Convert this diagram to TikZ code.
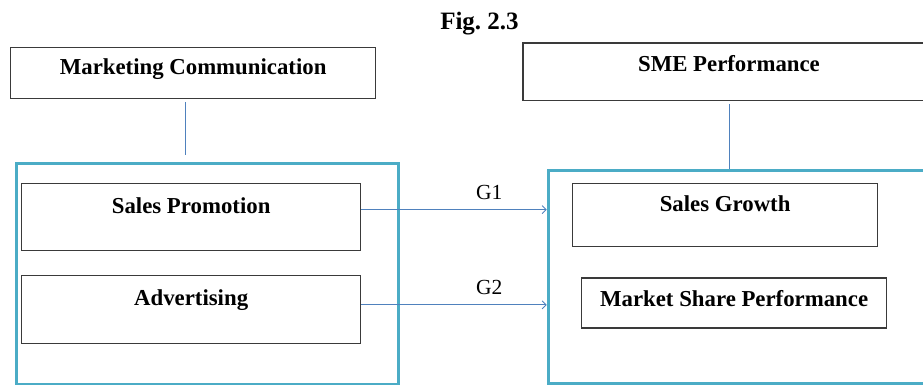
\documentclass[tikz,border=0pt]{standalone}
\usepackage{fontspec}
\setmainfont{Liberation Serif}
\usetikzlibrary{arrows.meta}
\usetikzlibrary{calc,positioning}

\definecolor{boxgray}{HTML}{3A3A3A}
\definecolor{groupcyan}{HTML}{4BACC6}
\definecolor{linkblue}{HTML}{4F81BD}

\tikzset{
    blk/.style={draw=boxgray, line width=1.3pt, inner sep=0pt, anchor=north west,
        font=\bfseries\fontsize{22.8}{27}\selectfont},
    grp/.style={draw=groupcyan, line width=2.8pt, inner sep=0pt, anchor=north west},
    link/.style={draw=linkblue, line width=0.9pt},
    flow/.style={link, -{Straight Barb[length=4pt,width=8pt]}},
    glabel/.style={font=\fontsize{21.5}{26}\selectfont, above=6.5pt}
}

\begin{document}
\frenchspacing
\begin{tikzpicture}[x=1pt, y=-1pt]

    \useasboundingbox (0,0) rectangle (923,385);
    \clip (0,0) rectangle (923,385);

    \node[font=\bfseries\fontsize{25}{30}\selectfont, anchor=base] (fig) at (479.5,29.3) {Fig. 2.3};

    % left side
    \node[blk, minimum width=365pt, text height=27pt, text depth=24pt] (mc) at (10,47) {Marketing Communication};
    \node[grp, minimum width=381.4pt, minimum height=220.8pt] (lgroup) at (15.3,162.2) {};
    \node[blk, minimum width=339pt, text height=30pt, text depth=37pt] (sp) at (21,183) {Sales Promotion};
    \node[blk, minimum width=339pt, text height=30.5pt, text depth=37.5pt] (adv) at (21,274.5) {Advertising};

    % right side
    \node[blk, minimum width=412pt, text height=28.4pt, text depth=29.3pt] (sme) at (522.3,42.3) {SME Performance};
    \node[grp, minimum width=390pt, minimum height=213pt] (rgroup) at (546.7,169.3) {};
    \node[blk, minimum width=305pt, text height=28pt, text depth=35pt] (sg) at (572,183) {Sales Growth};
    \node[blk, minimum width=305pt, text height=28.4pt, text depth=21.6pt] (msp) at (581,277.3) {Market Share Performance};

    % links
    \draw[link, shorten <=3pt, shorten >=7pt] ([xshift=-7.5pt]mc.south) -- ([xshift=-7.5pt]mc.south |- lgroup.north);
    \draw[link, shorten <=3pt] (sme.south) -- (sme.south |- rgroup.north);

    \coordinate (g1s) at ([yshift=4pt]sp.base east);
    \coordinate (g2s) at ([yshift=0.8pt]adv.base east);
    \draw[flow] (g1s) -- node[glabel, pos=0.69]{G1} (g1s -| rgroup.west);
    \draw[flow] (g2s) -- node[glabel, pos=0.69]{G2} (g2s -| rgroup.west);

\end{tikzpicture}
\end{document}
